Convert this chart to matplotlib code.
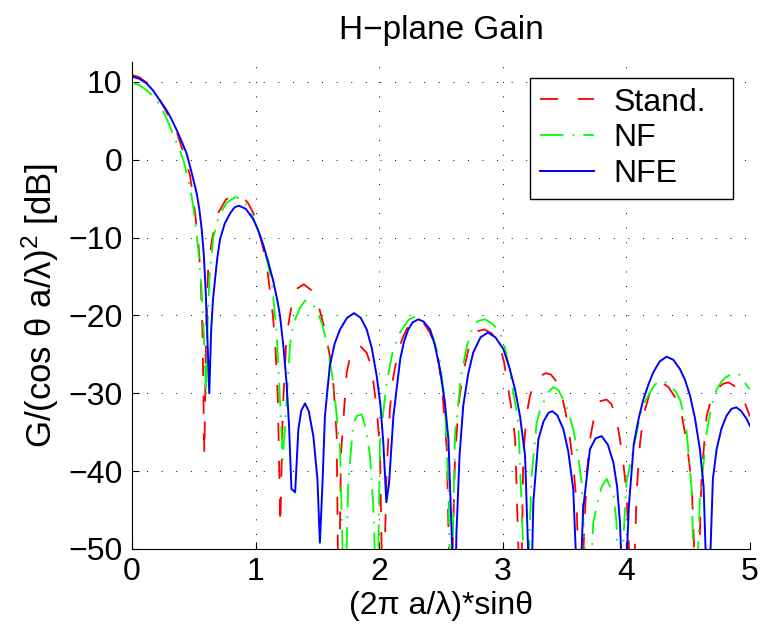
import matplotlib.pyplot as plt

# values (points below -50 are nulls clipped by the axis)
stand_x = [0, 0.06, 0.119, 0.17, 0.227, 0.27, 0.31, 0.361, 0.41, 0.469, 0.50, 0.536, 0.555, 0.57, 0.585,
           0.60, 0.617, 0.65, 0.698, 0.76, 0.82, 0.86, 0.90, 0.94, 0.98, 1.02, 1.063, 1.10, 1.14, 1.16,
           1.18, 1.20, 1.22, 1.25, 1.29, 1.33, 1.39, 1.454, 1.49, 1.52, 1.56, 1.60, 1.63, 1.656, 1.672,
           1.69, 1.737, 1.765, 1.79, 1.845, 1.899, 1.93, 1.953, 1.98, 2.006, 2.03, 2.06, 2.087, 2.11,
           2.14, 2.18, 2.22, 2.27, 2.316, 2.36, 2.41, 2.445, 2.478, 2.51, 2.546, 2.578, 2.614, 2.645,
           2.68, 2.72, 2.76, 2.80, 2.85, 2.91, 2.977, 3.01, 3.045, 3.075, 3.10, 3.145, 3.166, 3.19,
           3.22, 3.26, 3.30, 3.35, 3.39, 3.44, 3.477, 3.51, 3.544, 3.575, 3.598, 3.625, 3.68, 3.71,
           3.746, 3.79, 3.84, 3.88, 3.92, 3.948, 3.975, 4.0, 4.05, 4.083, 4.11, 4.137, 4.19, 4.235,
           4.285, 4.34, 4.407, 4.45, 4.488, 4.528, 4.572, 4.61, 4.65, 4.69, 4.73, 4.78, 4.824, 4.87,
           4.92, 4.96, 5.0]
stand_y = [10.9, 10.6, 9.9, 9.0, 7.6, 6.4, 5.2, 3.6, 1.2, -2.0, -5.5, -10.5, -15, -22, -38,
           -22, -13.6, -10, -6.8, -5.1, -4.6, -4.5, -4.8, -5.6, -6.8, -8.8, -11.5, -14.8, -20.0, -24,
           -30.8, -47, -32, -22.6, -18.8, -16.6, -16.0, -16.8, -17.9, -19.4, -21.8, -25.2, -29, -35.5, -60,
           -38, -27.3, -25.3, -24.3, -23.9, -24.8, -26.3, -28.6, -32, -37.2, -60, -40, -32.0, -28.3,
           -25.6, -23.3, -21.8, -20.8, -20.5, -21, -22.2, -23.5, -25.6, -29.5, -37, -60, -38, -31,
           -27.3, -24.5, -22.6, -22.0, -21.8, -22.3, -23.9, -26, -29.5, -32.5, -35.9, -60, -38, -33,
           -30.3, -28.6, -27.8, -27.4, -27.6, -28.6, -30.3, -32.6, -35.9, -40, -44.5, -60, -40.2, -35.5,
           -32.5, -31.0, -30.8, -31.4, -33.3, -35.9, -39, -42.5, -60, -42.7, -36.5, -32.9, -29.9, -28.9,
           -28.6, -29.2, -30.8, -33, -36.3, -41.5, -60, -40, -32.9, -30.6, -29.5, -28.8, -28.6, -29.0,
           -29.9, -31.3, -33.0]

nf_x = [0, 0.06, 0.119, 0.17, 0.227, 0.28, 0.335, 0.38, 0.42, 0.469, 0.50, 0.536, 0.56, 0.58, 0.60,
        0.61, 0.625, 0.657, 0.70, 0.766, 0.833, 0.88, 0.928, 0.98, 1.036, 1.09, 1.13, 1.17, 1.197,
        1.219, 1.238, 1.278, 1.30, 1.33, 1.36, 1.40, 1.45, 1.494, 1.54, 1.575, 1.629, 1.683, 1.72,
        1.75, 1.79, 1.82, 1.857, 1.89, 1.925, 1.953, 1.985, 2.006, 2.06, 2.114, 2.168, 2.235, 2.28,
        2.316, 2.36, 2.411, 2.45, 2.492, 2.53, 2.56, 2.58, 2.614, 2.667, 2.71, 2.76, 2.80, 2.856,
        2.92, 2.977, 3.02, 3.058, 3.09, 3.126, 3.19, 3.233, 3.274, 3.30, 3.328, 3.37, 3.41, 3.45,
        3.49, 3.53, 3.57, 3.605, 3.638, 3.69, 3.732, 3.76, 3.80, 3.84, 3.895, 3.92, 3.94, 4.0, 4.056,
        4.11, 4.15, 4.19, 4.23, 4.272, 4.32, 4.366, 4.40, 4.434, 4.46, 4.488, 4.528, 4.556, 4.595,
        4.65, 4.69, 4.73, 4.77, 4.8, 4.85, 4.905, 4.94, 4.973, 5.0]
nf_y = [9.9, 9.6, 8.9, 8.2, 7.0, 5.3, 3.1, 1.5, -0.3, -3.5, -6.5, -11.5, -16, -22, -30.3,
        -22, -15.5, -10.0, -7.3, -5.5, -4.8, -5.0, -5.9, -7.5, -9.8, -12.8, -15.5, -22.2, -30.8,
        -38.5, -34.2, -23.9, -21.6, -20.1, -19.0, -18.1, -18.4, -19.2, -21.2, -23.5, -28.6, -37.2, -60,
        -41.5, -33.8, -32.9, -32.7, -34.3, -38, -44.9, -60, -36.3, -28.6, -24.3, -22.2, -20.6, -20.2,
        -20.3, -20.8, -21.8, -23.5, -26.0, -31, -42.3, -60, -35, -27.3, -23.9, -21.3, -20.7, -20.5,
        -21.1, -22.2, -24.3, -27.3, -30.3, -33.8, -60, -40.6, -33.8, -32.2, -31.2, -29.8, -29.2, -29.6,
        -30.8, -32.4, -34.6, -37.5, -41.5, -60, -46.6, -44.5, -42.0, -41.0, -42.9, -46.6, -60, -41.5, -37.2,
        -32.9, -31.1, -29.9, -28.9, -28.4, -28.6, -29.3, -29.8, -30.8, -32.5, -35.0, -42.3, -60, -43.6,
        -35, -31.5, -29.5, -28.5, -28.0, -27.5, -27.5, -28.0, -29.0, -29.5]

nfe_x = [0, 0.06, 0.119, 0.17, 0.227, 0.27, 0.307, 0.362, 0.40, 0.442, 0.48, 0.523, 0.545, 0.564,
         0.58, 0.595, 0.61, 0.625, 0.64, 0.655, 0.672, 0.69, 0.712, 0.75, 0.793, 0.83, 0.866, 0.92,
         0.98, 1.02, 1.063, 1.10, 1.143, 1.175, 1.197, 1.225, 1.25, 1.27, 1.29, 1.32, 1.346, 1.37,
         1.40, 1.43, 1.467, 1.50, 1.52, 1.54, 1.561, 1.60, 1.64, 1.683, 1.74, 1.796, 1.85, 1.899,
         1.94, 1.98, 2.01, 2.033, 2.058, 2.08, 2.115, 2.17, 2.2, 2.235, 2.27, 2.316, 2.36, 2.411,
         2.45, 2.49, 2.53, 2.56, 2.612, 2.625, 2.65, 2.68, 2.72, 2.76, 2.82, 2.88, 2.94, 3.004,
         3.05, 3.099, 3.14, 3.18, 3.225, 3.247, 3.288, 3.33, 3.37, 3.40, 3.44, 3.49, 3.53, 3.57,
         3.615, 3.65, 3.705, 3.75, 3.80, 3.85, 3.895, 3.925, 3.948, 3.98, 4.02, 4.06, 4.10, 4.137,
         4.18, 4.218, 4.27, 4.326, 4.38, 4.434, 4.475, 4.515, 4.555, 4.595, 4.625, 4.66, 4.70, 4.73,
         4.77, 4.81, 4.85, 4.89, 4.93, 4.973, 5.0]
nfe_y = [10.7, 10.4, 9.8, 8.9, 7.6, 6.6, 5.6, 3.8, 2.4, 0.8, -1.5, -4.3, -6.4, -9.0,
         -12.0, -16.5, -23, -30.0, -22.0, -18, -15.3, -12.6, -10.2, -8.2, -6.9, -6.1, -5.9, -6.3,
         -7.6, -9.0, -11.0, -13.0, -15.6, -18, -20.0, -24, -28.6, -34, -42.3, -42.7, -34.6, -32.2,
         -31.3, -32.3, -35.5, -41, -49.2, -42, -32.9, -26.5, -23.6, -21.8, -20.3, -19.7, -20.3, -21.8,
         -24.2, -27.8, -31.5, -36.3, -44.0, -41.5, -32.9, -25.6, -23.4, -21.8, -20.9, -20.5, -20.8, -21.8,
         -23.8, -26.8, -31, -35.9, -60, -48, -38, -31.6, -27.5, -24.8, -22.8, -22.2, -22.8, -24.3,
         -26.5, -29.5, -33, -38.0, -60, -44, -35.9, -33.6, -32.5, -32.3, -32.8, -34.6, -37.5, -42.3,
         -60, -44.9, -37.2, -35.8, -35.5, -36.6, -38.9, -42, -46.6, -60, -44.5, -36.5, -33.2, -30.8,
         -28.8, -27.3, -25.9, -25.3, -25.7, -26.9, -28.3, -30.3, -33.2, -37.2, -42, -60, -41, -37.2,
         -34.5, -32.9, -32.0, -31.8, -32.3, -33.3, -34.2]

plt.rcParams['font.family'] = ['Liberation Sans', 'DejaVu Sans']
plt.rcParams['font.size'] = 23
plt.rcParams['mathtext.fontset'] = 'custom'
plt.rcParams['mathtext.rm'] = 'Liberation Sans'
plt.rcParams['mathtext.it'] = 'Liberation Sans'

fig = plt.figure(figsize=(7.61, 6.42), dpi=100)
ax = fig.add_axes([0.1735, 0.1449, 0.812, 0.759])

ax.plot(stand_x, stand_y, color='red', lw=1.3, dashes=(10, 11), label='Stand.')
ax.plot(nf_x, nf_y, color='#00ff00', lw=1.3, dashes=(13, 5, 1, 5), label='NF')
ax.plot(nfe_x, nfe_y, color='blue', lw=1.4, label='NFE')

ax.set_xlim(0, 5)
ax.set_ylim(-50, 12.6)
ax.set_xticks([0, 1, 2, 3, 4, 5])
ax.set_yticks([-50, -40, -30, -20, -10, 0, 10])
ax.set_yticklabels(['\u221250', '\u221240', '\u221230', '\u221220', '\u221210', '0', '10'])
ax.grid(True, color='black', linestyle=(0, (1, 14)), lw=0.7)
ax.tick_params(direction='in', length=5, width=0.8, labelsize=23)
ax.tick_params(axis='y', pad=7)
ax.tick_params(axis='x', pad=6)
ax.spines['top'].set_visible(False)
ax.spines['right'].set_visible(False)

ax.set_title('H\u2212plane Gain', fontsize=24, pad=16)
ax.set_xlabel('(2\u03c0 a/\u03bb)*sin\u03b8', fontsize=23, labelpad=3)
ax.set_ylabel('G/(cos \u03b8 a/\u03bb)$^2$ [dB]', fontsize=25, labelpad=5)

leg = ax.legend(loc='upper left', bbox_to_anchor=(0.644, 0.5, 0.3285, 0.4666), mode='expand',
                fancybox=False, framealpha=1, edgecolor='black', handlelength=1.7,
                handletextpad=0.6, labelspacing=0.18, borderpad=0.3, borderaxespad=0, fontsize=23)
leg.get_frame().set_linewidth(1.0)

plt.savefig('out.png', dpi=100)
plt.close()
